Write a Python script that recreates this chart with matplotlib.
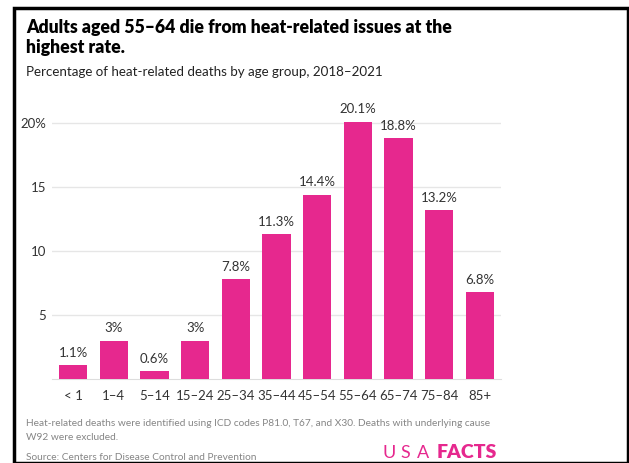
import matplotlib.pyplot as plt
from matplotlib.patches import Rectangle

# heat-related deaths by age group, 2018-2021 (percent of total)
ages = ["< 1", "1–4", "5–14", "15–24", "25–34", "35–44", "45–54",
        "55–64", "65–74", "75–84", "85+"]
shares = [1.1, 3.0, 0.6, 3.0, 7.8, 11.3, 14.4, 20.1, 18.8, 13.2, 6.8]
labels = ["1.1%", "3%", "0.6%", "3%", "7.8%", "11.3%", "14.4%",
          "20.1%", "18.8%", "13.2%", "6.8%"]
yticks = [5, 10, 15, 20]
ytick_labels = ["5", "10", "15", "20%"]

pink = "#E6288E"
plt.rcParams["font.family"] = ["Lato", "DejaVu Sans"]

W, H = 629, 463
fig = plt.figure(figsize=(W / 100, H / 100), dpi=100)

# black frame round the card
fig.add_artist(Rectangle((14 / W, 0), 614 / W, 1 - 8 / H, transform=fig.transFigure,
                         fill=False, edgecolor="black", linewidth=2.5))

ax = fig.add_axes([52 / W, 84 / H, 449 / W, (379 - 110.2) / H])
x = range(len(ages))
ax.bar(x, shares, width=0.7, color=pink, zorder=3)
for i, (v, t) in enumerate(zip(shares, labels)):
    ax.text(i, v + 0.5, t, ha="center", va="bottom", fontsize=9.5, color="#333333")

ax.set_xlim(-0.52, 10.52)
ax.set_ylim(0, 21)
ax.set_yticks(yticks)
ax.set_yticklabels(ytick_labels)
ax.set_xticks(list(x))
ax.set_xticklabels(ages)
ax.tick_params(length=0, labelsize=9.5, colors="#333333")
ax.tick_params(axis="x", pad=8)
ax.tick_params(axis="y", pad=4)
ax.grid(axis="y", color="#E6E6E6", linewidth=1, zorder=0)
for s in ["top", "right", "left"]:
    ax.spines[s].set_visible(False)
ax.spines["bottom"].set_color("#DDDDDD")

fig.text(26 / W, 1 - 27 / H, "Adults aged 55–64 die from heat-related issues at the",
         fontsize=12.7, fontweight="heavy", va="center")
fig.text(26 / W, 1 - 48 / H, "highest rate.", fontsize=12.7, fontweight="heavy", va="center")
fig.text(26 / W, 1 - 72 / H, "Percentage of heat-related deaths by age group, 2018–2021",
         fontsize=9.6, va="center", color="#222222")

fig.text(26 / W, 1 - 424 / H,
         "Heat-related deaths were identified using ICD codes P81.0, T67, and X30. Deaths with underlying cause",
         fontsize=7.3, va="center", color="#858585")
fig.text(26 / W, 1 - 438 / H, "W92 were excluded.", fontsize=7.3, va="center", color="#858585")
fig.text(26 / W, 1 - 457 / H, "Source: Centers for Disease Control and Prevention",
         fontsize=7.3, va="center", color="#858585")

# logo: spaced "USA" followed by bold "FACTS"
for letter, px in zip("USA", [383, 400, 417]):
    fig.text(px / W, 1 - 453 / H, letter, fontsize=13, color=pink, va="center")
fig.text(437 / W, 1 - 453 / H, "FACTS", fontsize=14, color=pink, fontweight="heavy", va="center")

fig.savefig("out.png", dpi=100)
